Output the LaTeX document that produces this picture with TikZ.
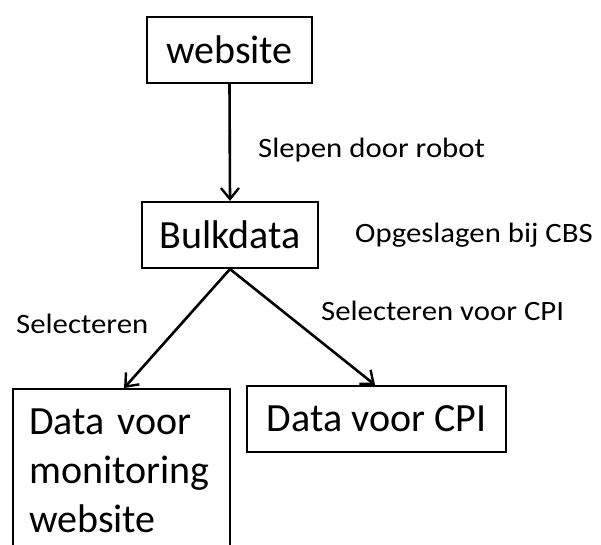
\documentclass[tikz,border=0pt]{standalone}
\usepackage{fontspec}
\setmainfont{Carlito}
\newfontfamily\labelfont[FakeStretch=1.1]{Carlito}
\usetikzlibrary{arrows.meta}
\tikzset{
  boxnode/.style={draw=black, line width=2.2pt, inner sep=0pt,
    font=\fontsize{40}{49}\selectfont, minimum height=66pt},
  lbl/.style={inner sep=0pt, anchor=base west, font=\labelfont\fontsize{28}{32}\selectfont},
  conn/.style={draw=black, line width=2.6pt, -{Straight Barb[length=11pt,width=18pt,line width=2.4pt]}}
}
\begin{document}
\begin{tikzpicture}[x=1pt,y=1pt]
\fill[white] (0,0) rectangle (601,-544);
\useasboundingbox (0,0) rectangle (601,-544);
\node[boxnode, minimum width=165pt] (web) at (229.5,-50) {website};
\node[boxnode, minimum width=176pt] (bulk) at (230,-235) {Bulkdata};
\node[boxnode, minimum width=259pt] (cpi) at (376.5,-419) {Data voor CPI};
\node[boxnode, anchor=north west, inner xsep=16pt, inner ysep=20pt,
      text width=185pt, align=left, minimum height=0pt] (mon) at (12,-388)
      {Data voor\\monitoring\\website};
\node[lbl] (slep) at (258,-157) {Slepen door robot};
\node[lbl] (opg) at (355,-242) {Opgeslagen bij CBS};
\node[lbl] (sel) at (16,-333) {Selecteren};
\node[lbl] (selcpi) at (321,-320) {Selecteren voor CPI};
\draw[conn] (web.south) -- (bulk.north);
\draw[conn] (bulk.south) -- ([xshift=2.5pt]mon.north);
\draw[conn] (bulk.south) -- ([xshift=-1.5pt]cpi.north);
\end{tikzpicture}
\end{document}
